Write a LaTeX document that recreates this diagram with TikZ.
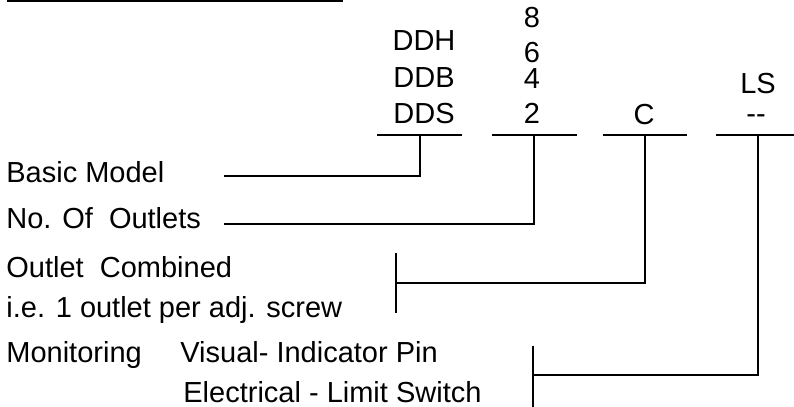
\documentclass[tikz,border=0pt]{standalone}
\usepackage{fontspec}
\setmainfont{Liberation Sans}
\usetikzlibrary{positioning}

\begin{document}
\begin{tikzpicture}[
  x=0.5pt, y=-0.5pt,
  font=\fontsize{14.5}{17}\selectfont,
  caption/.style={anchor=base west, inner sep=0pt},
  code/.style={anchor=base, inner sep=0pt},
  rule/.style={line width=1pt},
  leader/.style={line width=1pt}
]
  \useasboundingbox (0,0) rectangle (794,407);

  % heading rule
  \coordinate (headw) at (7,1);
  \coordinate (heade) at (343,1);
  \draw[rule] (headw) -- (heade);

  % code columns
  \node[code] (ddh) at (424,50)  {DDH};
  \node[code] (ddb) at (424,87)  {DDB};
  \node[code] (dds) at (424,123) {DDS};
  \node[code] (n8)  at (532,27)  {8};
  \node[code] (n6)  at (532,62)  {6};
  \node[code] (n4)  at (532,89)  {4};
  \node[code] (n2)  at (532,123) {2};
  \node[code] (comb) at (644,124) {C};
  \node[code] (ls)   at (758,93)  {LS};
  \node[code] (none) at (756,123) {-{}-};

  \coordinate (modelw) at (377,135);  \coordinate (modele) at (462,135);
  \coordinate (outw)   at (492,135);  \coordinate (oute)   at (577,135);
  \coordinate (combw)  at (603,135);  \coordinate (combe)  at (687,135);
  \coordinate (monw)   at (716,135);  \coordinate (mone)   at (794,135);
  \draw[rule] (modelw) -- (modele);
  \draw[rule] (outw) -- (oute);
  \draw[rule] (combw) -- (combe);
  \draw[rule] (monw) -- (mone);

  \coordinate (modeltap) at (420,135);
  \coordinate (outtap)   at (534,135);
  \coordinate (combtap)  at (645,135);
  \coordinate (montap)   at (758,135);

  % captions
  \node[caption] (basic)  at (6,182) {Basic Model};
  \node[caption] (number) at (6,228) {No. Of\ \ Outlets};
  \node[caption] (outlet) at (6,277) {Outlet\ \ Combined};
  \node[caption] (screw)  at (6,317) {i.e. 1 outlet per adj. screw};
  \node[caption] (monit)  at (6,362) {Monitoring};
  \node[caption] (visual) at (180,362) {Visual- Indicator Pin};
  \node[caption] (elect)  at (183,402) {Electrical - Limit Switch};

  % leaders
  \coordinate (basicend)  at (224,176);
  \coordinate (numberend) at (224,224);
  \coordinate (combend)   at (396,283);
  \coordinate (combtop)   at (396,253);
  \coordinate (combbot)   at (396,313);
  \coordinate (monend)    at (533,375);
  \coordinate (montop)    at (533,346);
  \coordinate (monbot)    at (533,407);

  \draw[leader] (modeltap) |- (basicend);
  \draw[leader] (outtap) |- (numberend);
  \draw[leader] (combtap) |- (combend);
  \draw[leader] (combtop) -- (combbot);
  \draw[leader] (montap) |- (monend);
  \draw[leader] (montop) -- (monbot);
\end{tikzpicture}
\end{document}
